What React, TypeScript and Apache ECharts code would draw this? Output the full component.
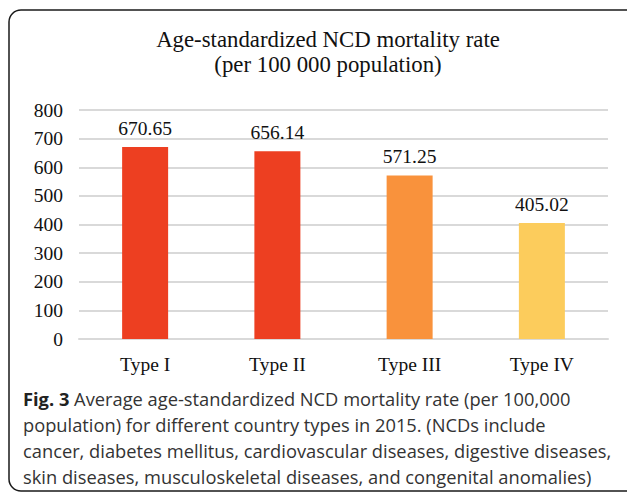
import React, { useEffect, useRef } from "react";
import * as echarts from "echarts";

const categories = ["Type I", "Type II", "Type III", "Type IV"];
const values = [670.65, 656.14, 571.25, 405.02];
const barColors = ["#ED3F21", "#ED3F21", "#F9923C", "#FCCC5C"];
const yTicks = [0, 100, 200, 300, 400, 500, 600, 700, 800];
const titleLines = ["Age-standardized NCD mortality rate", "(per 100 000 population)"];
const captionLines = [
  "{b|Fig. 3} Average age-standardized NCD mortality rate (per 100,000",
  "population) for different country types in 2015. (NCDs include",
  "cancer, diabetes mellitus, cardiovascular diseases, digestive diseases,",
  "skin diseases, musculoskeletal diseases, and congenital anomalies)",
];

const SERIF = "'Liberation Serif', 'DejaVu Serif', serif";
const SANS = "'Open Sans', 'Noto Sans', sans-serif";

export default function App() {
  const ref = useRef<HTMLDivElement>(null);
  useEffect(() => {
    if (!ref.current) return;
    const chart = echarts.init(ref.current, null, { renderer: "svg" });
    const graphics: any[] = [
      {
        type: "rect",
        shape: { x: 9, y: 10, width: 660, height: 481, r: 12 },
        style: { fill: "none", stroke: "#1a1a1a", lineWidth: 1.5 },
        silent: true,
      },
    ];
    titleLines.forEach((t, i) => {
      graphics.push({
        type: "text",
        x: 328,
        y: 39 + i * 25,
        style: {
          text: t,
          fill: "#111",
          font: `22.8px ${SERIF}`,
          align: "center",
          verticalAlign: "middle",
        },
      });
    });
    captionLines.forEach((t, i) => {
      graphics.push({
        type: "text",
        x: 23,
        y: 398 + i * 26.2,
        style: {
          text: t,
          fill: "#333",
          fontFamily: SANS,
          fontSize: 18.3,
          align: "left",
          verticalAlign: "middle",
          rich: {
            b: { fontFamily: SANS, fontSize: 18.3, fontWeight: "bold", fill: "#222" },
          },
        },
      });
    });
    chart.setOption({
      animation: false,
      backgroundColor: "#fff",
      grid: { left: 79, top: 110, width: 529, height: 229, containLabel: false },
      xAxis: {
        type: "category",
        data: categories,
        axisLine: { show: true, lineStyle: { color: "#D9D9D9", width: 2 } },
        axisTick: { show: false },
        axisLabel: { fontFamily: SERIF, fontSize: 19.5, color: "#111", margin: 15 },
      },
      yAxis: {
        type: "value",
        min: yTicks[0],
        max: yTicks[yTicks.length - 1],
        interval: 100,
        axisLine: { show: false },
        axisTick: { show: false },
        axisLabel: { fontFamily: SERIF, fontSize: 19.5, color: "#111", margin: 16 },
        splitLine: { lineStyle: { color: "#D9D9D9", width: 2 } },
      },
      series: [
        {
          type: "bar",
          data: values.map((v, i) => ({ value: v, itemStyle: { color: barColors[i] } })),
          barWidth: 46,
          label: {
            show: true,
            position: "top",
            distance: 9,
            fontFamily: SERIF,
            fontSize: 19.5,
            color: "#111",
            formatter: (p: any) => p.value.toFixed(2),
          },
        },
      ],
      graphic: graphics,
    });
    return () => chart.dispose();
  }, []);
  return (
    <div
      ref={ref}
      style={{ position: "fixed", left: 0, top: 0, width: 627, height: 495 }}
    />
  );
}
